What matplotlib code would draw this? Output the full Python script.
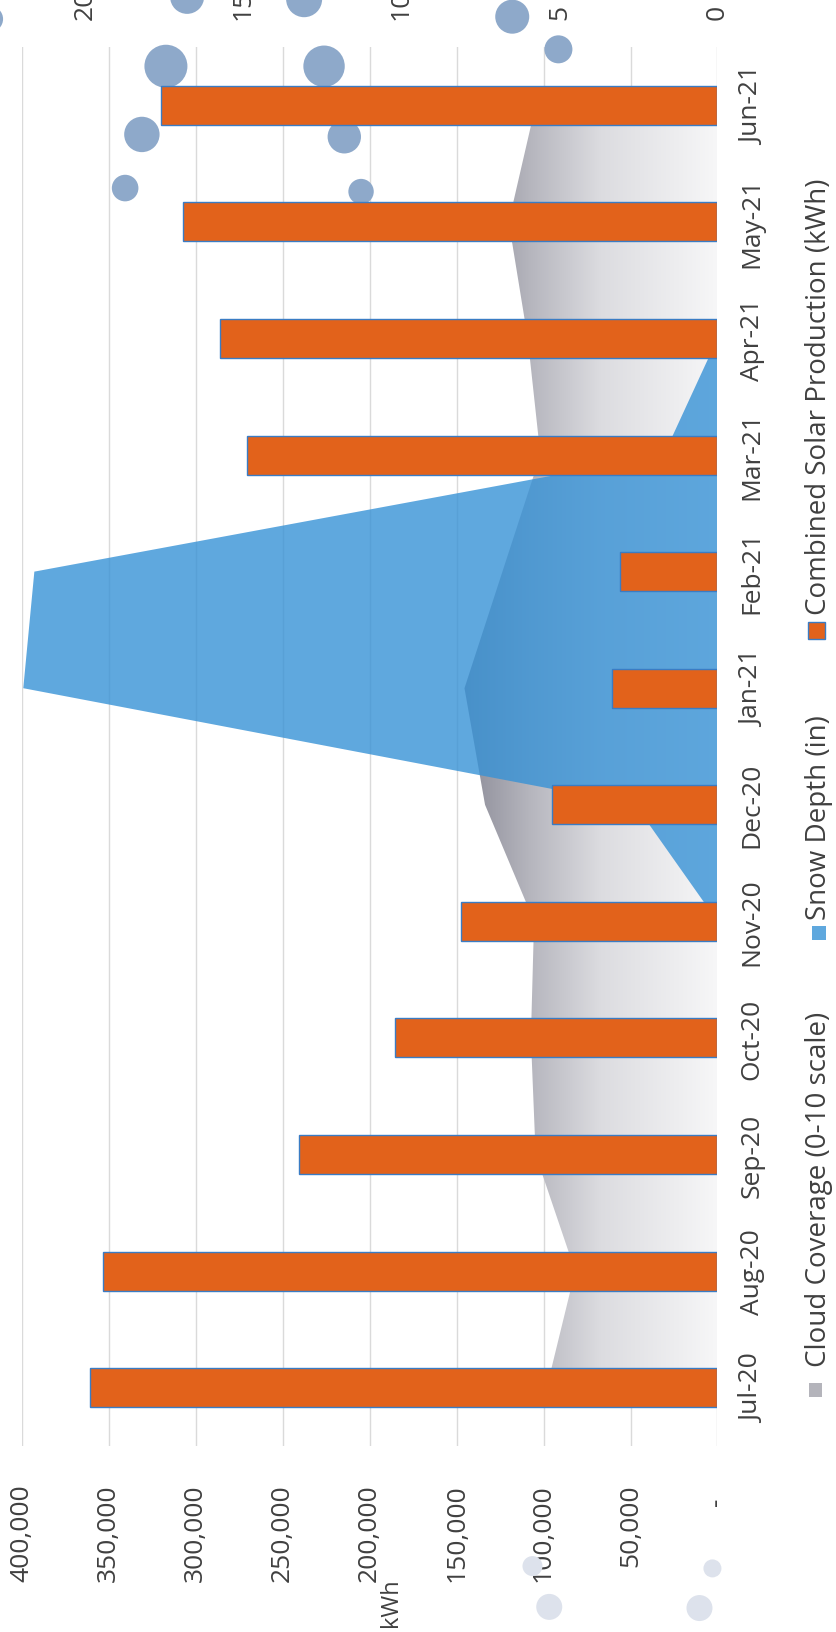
import numpy as np
import matplotlib
matplotlib.use("Agg")
import matplotlib.pyplot as plt
from matplotlib.colors import LinearSegmentedColormap
from matplotlib.patches import Rectangle

# ---------------- data ----------------
months = ['Jul-20', 'Aug-20', 'Sep-20', 'Oct-20', 'Nov-20', 'Dec-20',
          'Jan-21', 'Feb-21', 'Mar-21', 'Apr-21', 'May-21', 'Jun-21']
solar_kwh = [360600, 353200, 240600, 185500, 147700, 95400,
             60600, 56000, 270200, 286200, 307100, 320000]
cloud_cover = [5.4, 4.5, 5.75, 5.9, 5.8, 7.35, 8.0, 6.8, 5.6, 6.0, 6.6, 5.75]
snow_depth = [0, 0, 0, 0, 0, 2.6, 21.95, 21.6, 1.7, 0, 0, 0]

kwh_ticks = [0, 50000, 100000, 150000, 200000, 250000, 300000, 350000, 400000]
kwh_ticklabels = ['-  ', '50,000', '100,000', '150,000', '200,000',
                  '250,000', '300,000', '350,000', '400,000']
sec_ticks = [0, 5, 10, 15, 20]
sec_ticklabels = ['0', '5', '10', '15', '20']

# decorative dots (secondary-axis value, category position, radius)
dot_value = [17.44, 18.2, 18.73, 12.44, 11.8, 11.27, 16.77, 13.07, 6.49, 5.03, 23.0]
dot_pos = [11.335, 10.75, 10.29, 11.335, 10.73, 10.26, 11.93, 11.91, 11.76, 11.48, 11.74]
dot_radius = [21.5, 17.7, 13.3, 20.7, 16.7, 12.7, 17, 18, 17, 14, 13]
faint_value = [5.32, 0.16, 0.57, 5.85]
faint_pos = [-1.88, -1.55, -1.89, -1.53]
faint_radius = [13, 9, 13, 10]

legend_labels = ['Cloud Coverage (0-10 scale)', 'Snow Depth (in)',
                 'Combined Solar Production (kWh)']

# ---------------- style ----------------
W, H = 837, 1633
FS = 19
TXT = '#404040'
ORANGE = '#E2621B'
BAR_EDGE = '#3A7CC4'
SNOW = '#3792D6'
DOT = '#8EA9CA'
FAINT = '#DDE2EC'
plt.rcParams['font.family'] = ['Open Sans', 'DejaVu Sans']

fig = plt.figure(figsize=(W / 100, H / 100), dpi=100)
fig.patch.set_facecolor('white')

px_l, px_r, px_t, px_b = 21.7, 717.5, 48, 1447
rect = [px_l / W, 1 - px_b / H, (px_r - px_l) / W, (px_b - px_t) / H]
ax = fig.add_axes(rect)
ypos = np.arange(len(months))

# primary axis: grid, kWh ticks (bottom), month labels (right)
ax.set_xlim(400000, 0)
ax.set_ylim(-0.5, len(months) - 0.5)
ax.set_xticks(kwh_ticks)
ax.set_xticklabels(kwh_ticklabels, rotation=90)
ax.tick_params(axis='x', length=0, pad=27, labelsize=FS, colors=TXT)
ax.xaxis.grid(True, color='#dadada', lw=1.0)
ax.set_axisbelow(True)
ax.yaxis.tick_right()
ax.set_yticks(ypos)
ax.set_yticklabels(months, rotation=90, va='center')
ax.tick_params(axis='y', length=0, pad=16, labelsize=FS, colors=TXT)
for s in ax.spines.values():
    s.set_visible(False)

# secondary axis: areas + dots
ax2 = ax.twiny()
cmap = LinearSegmentedColormap.from_list(
    'cloud', [(0.0, '#f7f7f8'), (0.45, '#dcdce0'), (0.72, '#b6b6be'), (1.0, '#888894')])
cloud_poly = ax2.fill_betweenx(ypos, 0, cloud_cover, facecolor='none', edgecolor='none')
vmax = max(cloud_cover) + 0.2
grad = np.tile(np.linspace(0, 1, 256), (2, 1))
img = ax2.imshow(grad, extent=[0, vmax, -0.5, len(months) - 0.5], cmap=cmap,
                 aspect='auto', origin='lower', zorder=1, interpolation='bilinear')
img.set_clip_path(cloud_poly.get_paths()[0], transform=ax2.transData)
ax2.fill_betweenx(ypos, 0, snow_depth, facecolor=SNOW, alpha=0.8, lw=0, zorder=2)

ax2.scatter(dot_value, dot_pos, s=[(2 * r * 0.72) ** 2 for r in dot_radius],
            color=DOT, lw=0, zorder=0.5, clip_on=False)
ax2.scatter(faint_value, faint_pos, s=[(2 * r * 0.72) ** 2 for r in faint_radius],
            color=FAINT, lw=0, zorder=0.5, clip_on=False)

ax2.set_xlim(22, 0)
ax2.set_ylim(-0.5, len(months) - 0.5)
ax2.set_xticks(sec_ticks)
ax2.set_xticklabels(sec_ticklabels, rotation=90)
ax2.tick_params(axis='x', length=0, pad=20, labelsize=FS, colors=TXT)
for s in ax2.spines.values():
    s.set_visible(False)

# bars on top
ax3 = ax.twiny()
ax3.barh(ypos, solar_kwh, height=0.335, color=ORANGE, edgecolor=BAR_EDGE,
         linewidth=1.0, zorder=3)
ax3.set_xlim(400000, 0)
ax3.set_ylim(-0.5, len(months) - 0.5)
ax3.set_xticks([])
for s in ax3.spines.values():
    s.set_visible(False)

# axis title
fig.text(391 / W, 1 - 1603 / H, 'kWh', rotation=90, ha='center', va='center',
         fontsize=17, color=TXT)

# legend (vertical, rotated)
leg_text_bottom = [1367, 920, 615]
leg_marker = [(816, 1391, 13, 14, '#b4b4bb', 'none'),
              (819, 934, 14, 14, '#5FA8DE', 'none'),
              (817, 631, 17, 17, ORANGE, BAR_EDGE)]
for lab, yb, (mx, my, mw, mh, fc, ec) in zip(legend_labels, leg_text_bottom, leg_marker):
    fig.text(819 / W, 1 - yb / H, lab, rotation=90, ha='center', va='bottom',
             fontsize=FS + 1, color=TXT)
    fig.add_artist(Rectangle(((mx - mw / 2) / W, 1 - (my + mh / 2) / H), mw / W, mh / H,
                             transform=fig.transFigure, facecolor=fc,
                             edgecolor=ec, lw=1.0))

fig.savefig('out.png', dpi=100, facecolor='white')
